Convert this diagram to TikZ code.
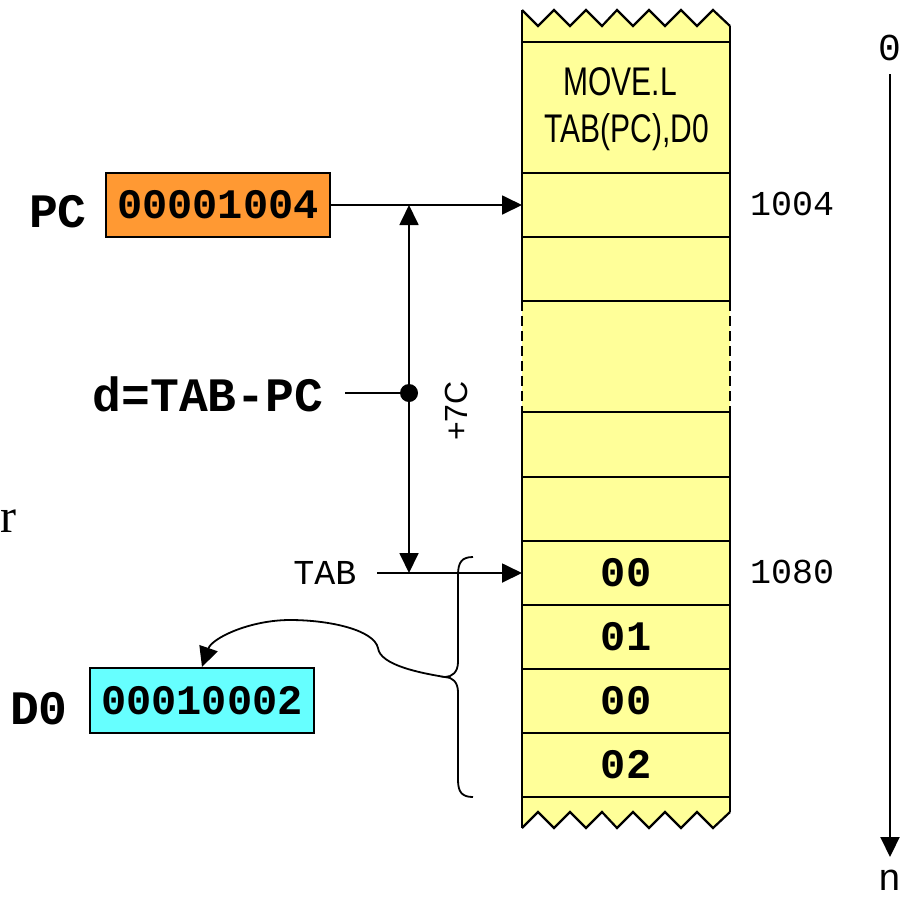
\documentclass[tikz,border=0pt]{standalone}
\usepackage{fontspec}
\setmainfont{Liberation Serif}
\newfontfamily\monof{Liberation Mono}
\newfontfamily\arialn[FakeStretch=0.75]{Liberation Sans}
\newfontfamily\arialf{Liberation Sans}
\usetikzlibrary{arrows.meta}
\definecolor{memy}{HTML}{FFFF99}
\definecolor{orng}{HTML}{FF9933}
\definecolor{cyn}{HTML}{66FFFF}
\tikzset{
  bdig/.style={font=\monof\bfseries\fontsize{42}{48}\selectfont, inner sep=0pt},
  blbl/.style={font=\monof\bfseries\fontsize{48}{54}\selectfont, inner sep=0pt},
  rmono/.style={font=\monof\fontsize{35}{40}\selectfont, inner sep=0pt},
  regbox/.style={draw, line width=2pt, minimum width=224pt, minimum height=64pt, inner sep=0pt,
     font=\monof\bfseries\fontsize{42}{48}\selectfont},
  memline/.style={line width=2.2pt},
  conn/.style={line width=1.8pt, -{Triangle[length=20pt,width=19pt]}},
  plain/.style={line width=1.8pt},
}
\begin{document}
\begin{tikzpicture}[x=1pt,y=-1pt]
\useasboundingbox (0,0) rectangle (909,898);
% memory column
\fill[memy] (522,10) -- (538,26) -- (554,10) -- (570,26) -- (586,10) -- (602,26) -- (617,10) -- (633,26) -- (649,10) -- (665,26) -- (681,10) -- (697,26) -- (713,10) -- (730,26)
  -- (730,812) -- (713,828) -- (697,812) -- (681,828) -- (665,812) -- (649,828) -- (633,812) -- (617,828) -- (602,812) -- (586,828) -- (570,812) -- (554,828) -- (538,812) -- (522,828) -- cycle;
\draw[memline, line join=miter] (522,10) -- (538,26) -- (554,10) -- (570,26) -- (586,10) -- (602,26) -- (617,10) -- (633,26) -- (649,10) -- (665,26) -- (681,10) -- (697,26) -- (713,10) -- (730,26);
\draw[memline, line join=miter] (522,828) -- (538,812) -- (554,828) -- (570,812) -- (586,828) -- (602,812) -- (617,828) -- (633,812) -- (649,828) -- (665,812) -- (681,828) -- (697,812) -- (713,828) -- (730,812);
\draw[memline] (522,10) -- (522,301) (522,412) -- (522,828);
\draw[memline] (730,26) -- (730,301) (730,412) -- (730,812);
\draw[memline, dash pattern=on 10pt off 5pt] (522,301) -- (522,412) (730,301) -- (730,412);
\foreach \yy in {42,173,237,301,412,477,541,605,669,733,797}
  \draw[memline] (522,\yy) -- (730,\yy);
% instruction text
\node[font=\arialn\fontsize{40}{46}\selectfont, inner sep=0pt] (ins1) at (620,82) {MOVE.L};
\node[font=\arialn\fontsize{40}{46}\selectfont, inner sep=0pt] (ins2) at (627,132) {TAB(PC),D0};
% cell contents
\node[bdig] (m0) at (626,573) {00};
\node[bdig] (m1) at (626,637) {01};
\node[bdig] (m2) at (626,701) {00};
\node[bdig] (m3) at (626,765) {02};
% addresses
\node[rmono, anchor=west] (a1004) at (750,204) {1004};
\node[rmono, anchor=west] (a1080) at (750,572) {1080};
% axis
\node[font=\monof\fontsize{38}{44}\selectfont, inner sep=0pt] (zero) at (890,48) {0};
\node[font=\monof\fontsize{38}{44}\selectfont, inner sep=0pt] (nn) at (890,880) {n};
\coordinate (axtop) at (890,74);
\coordinate (axbot) at (890,857);
\draw[conn, line width=2pt] (axtop) -- (axbot);
% registers
\node[regbox, fill=orng] (pc) at (218,205) {00001004};
\node[blbl] (pclbl) at (58,211.5) {PC};
\node[regbox, fill=cyn, minimum height=65pt] (d0) at (202,700.5) {00010002};
\node[blbl] (d0lbl) at (39,708.5) {D0};
\node[blbl] (dlbl) at (208,394) {d=TAB-PC};
\node[rmono] (tablbl) at (325,572.5) {TAB};
\node[font=\arialf\fontsize{32}{38}\selectfont, inner sep=0pt, rotate=90] (off) at (456,411) {+7C};
\node[font=\fontsize{48}{54}\selectfont, anchor=base west, inner sep=0pt] (rr) at (0,532) {r};
% connectors
\coordinate (c1004) at (522,205);
\coordinate (c1080) at (522,573);
\coordinate (tabstart) at (377,573);
\coordinate (vtop) at (409,205);
\coordinate (vbot) at (409,573);
\coordinate (dstart) at (345,393);
\node[circle, fill, inner sep=0pt, minimum size=18pt] (dot) at (409,393) {};
\draw[conn] (pc.east) -- (c1004);
\draw[conn] (tabstart) -- (c1080);
\draw[plain, {Triangle[length=20pt,width=19pt]}-{Triangle[length=20pt,width=19pt]}] (vtop) -- (vbot);
\draw[plain] (dstart) -- (dot);
% brace
\coordinate (brtip) at (445,677);
\draw[plain] (473,557) .. controls (462,557) and (458,562) .. (458,575) -- (458,662)
   .. controls (458,672) and (452,677) .. (brtip)
   .. controls (452,677) and (458,682) .. (458,692) -- (458,780)
   .. controls (458,792) and (462,797) .. (473,797);
\draw[conn] (brtip) .. controls (420,673) and (380,665) .. (378,648)
   .. controls (374,630) and (330,620) .. (290,620)
   .. controls (250,620) and (212,638) .. (d0.north);
\end{tikzpicture}
\end{document}
